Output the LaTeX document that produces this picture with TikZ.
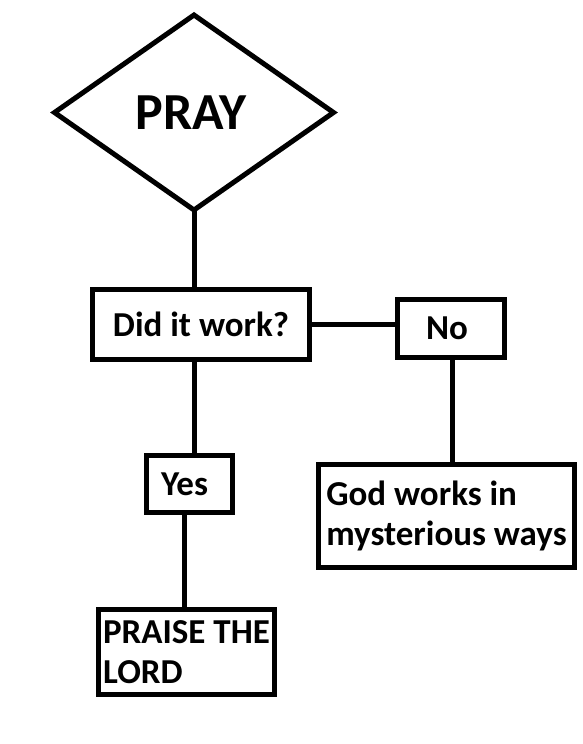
\documentclass[tikz,border=0pt]{standalone}
\usepackage{fontspec}
\setmainfont{Carlito}
\usetikzlibrary{shapes.geometric}
\begin{document}
\begin{tikzpicture}[x=1pt,y=-1pt,
  every node/.style={inner sep=0pt,outer sep=0pt},
  box/.style={draw,line width=5pt,rectangle,line join=miter,
    font=\bfseries\fontsize{35}{40}\selectfont,align=left},
  conn/.style={draw,line width=5pt}]
\useasboundingbox (0,0) rectangle (582,744);
\node[draw,line width=5pt,diamond,line join=miter,minimum width=279pt,minimum height=195pt,
  font=\bfseries\fontsize{52}{60}\selectfont] (pray) at (194,112.5) {\hspace{-6pt}PRAY};
\node[box,minimum width=217pt,minimum height=70pt] (did) at (201,324.5) {Did it work?};
\node[box,minimum width=107pt,minimum height=58pt] (no) at (451,328.5) {\raisebox{-5pt}{No}\hspace{8pt}};
\node[box,minimum width=86pt,minimum height=57pt] (yes) at (189.5,484) {\raisebox{-3pt}{Yes}\hspace{10pt}};
\node[box,minimum width=256pt,minimum height=103pt] (god) at (446.5,516) {God works in\\mysterious ways};
\node[box,minimum width=176pt,minimum height=85pt] (praise) at (186.5,652) {PRAISE THE\\LORD};
\coordinate (ds) at (194,359.5);
\coordinate (ys) at (184,512.5);
\draw[conn] (pray.south) -- (pray.south |- did.north);
\draw[conn] (did.east) -- (did.east -| no.west);
\draw[conn] ([xshift=1pt]no.south) -- ([xshift=1pt]no.south |- god.north);
\draw[conn] (ds) -- (ds |- yes.north);
\draw[conn] (ys) -- (ys |- praise.north);
\end{tikzpicture}
\end{document}
